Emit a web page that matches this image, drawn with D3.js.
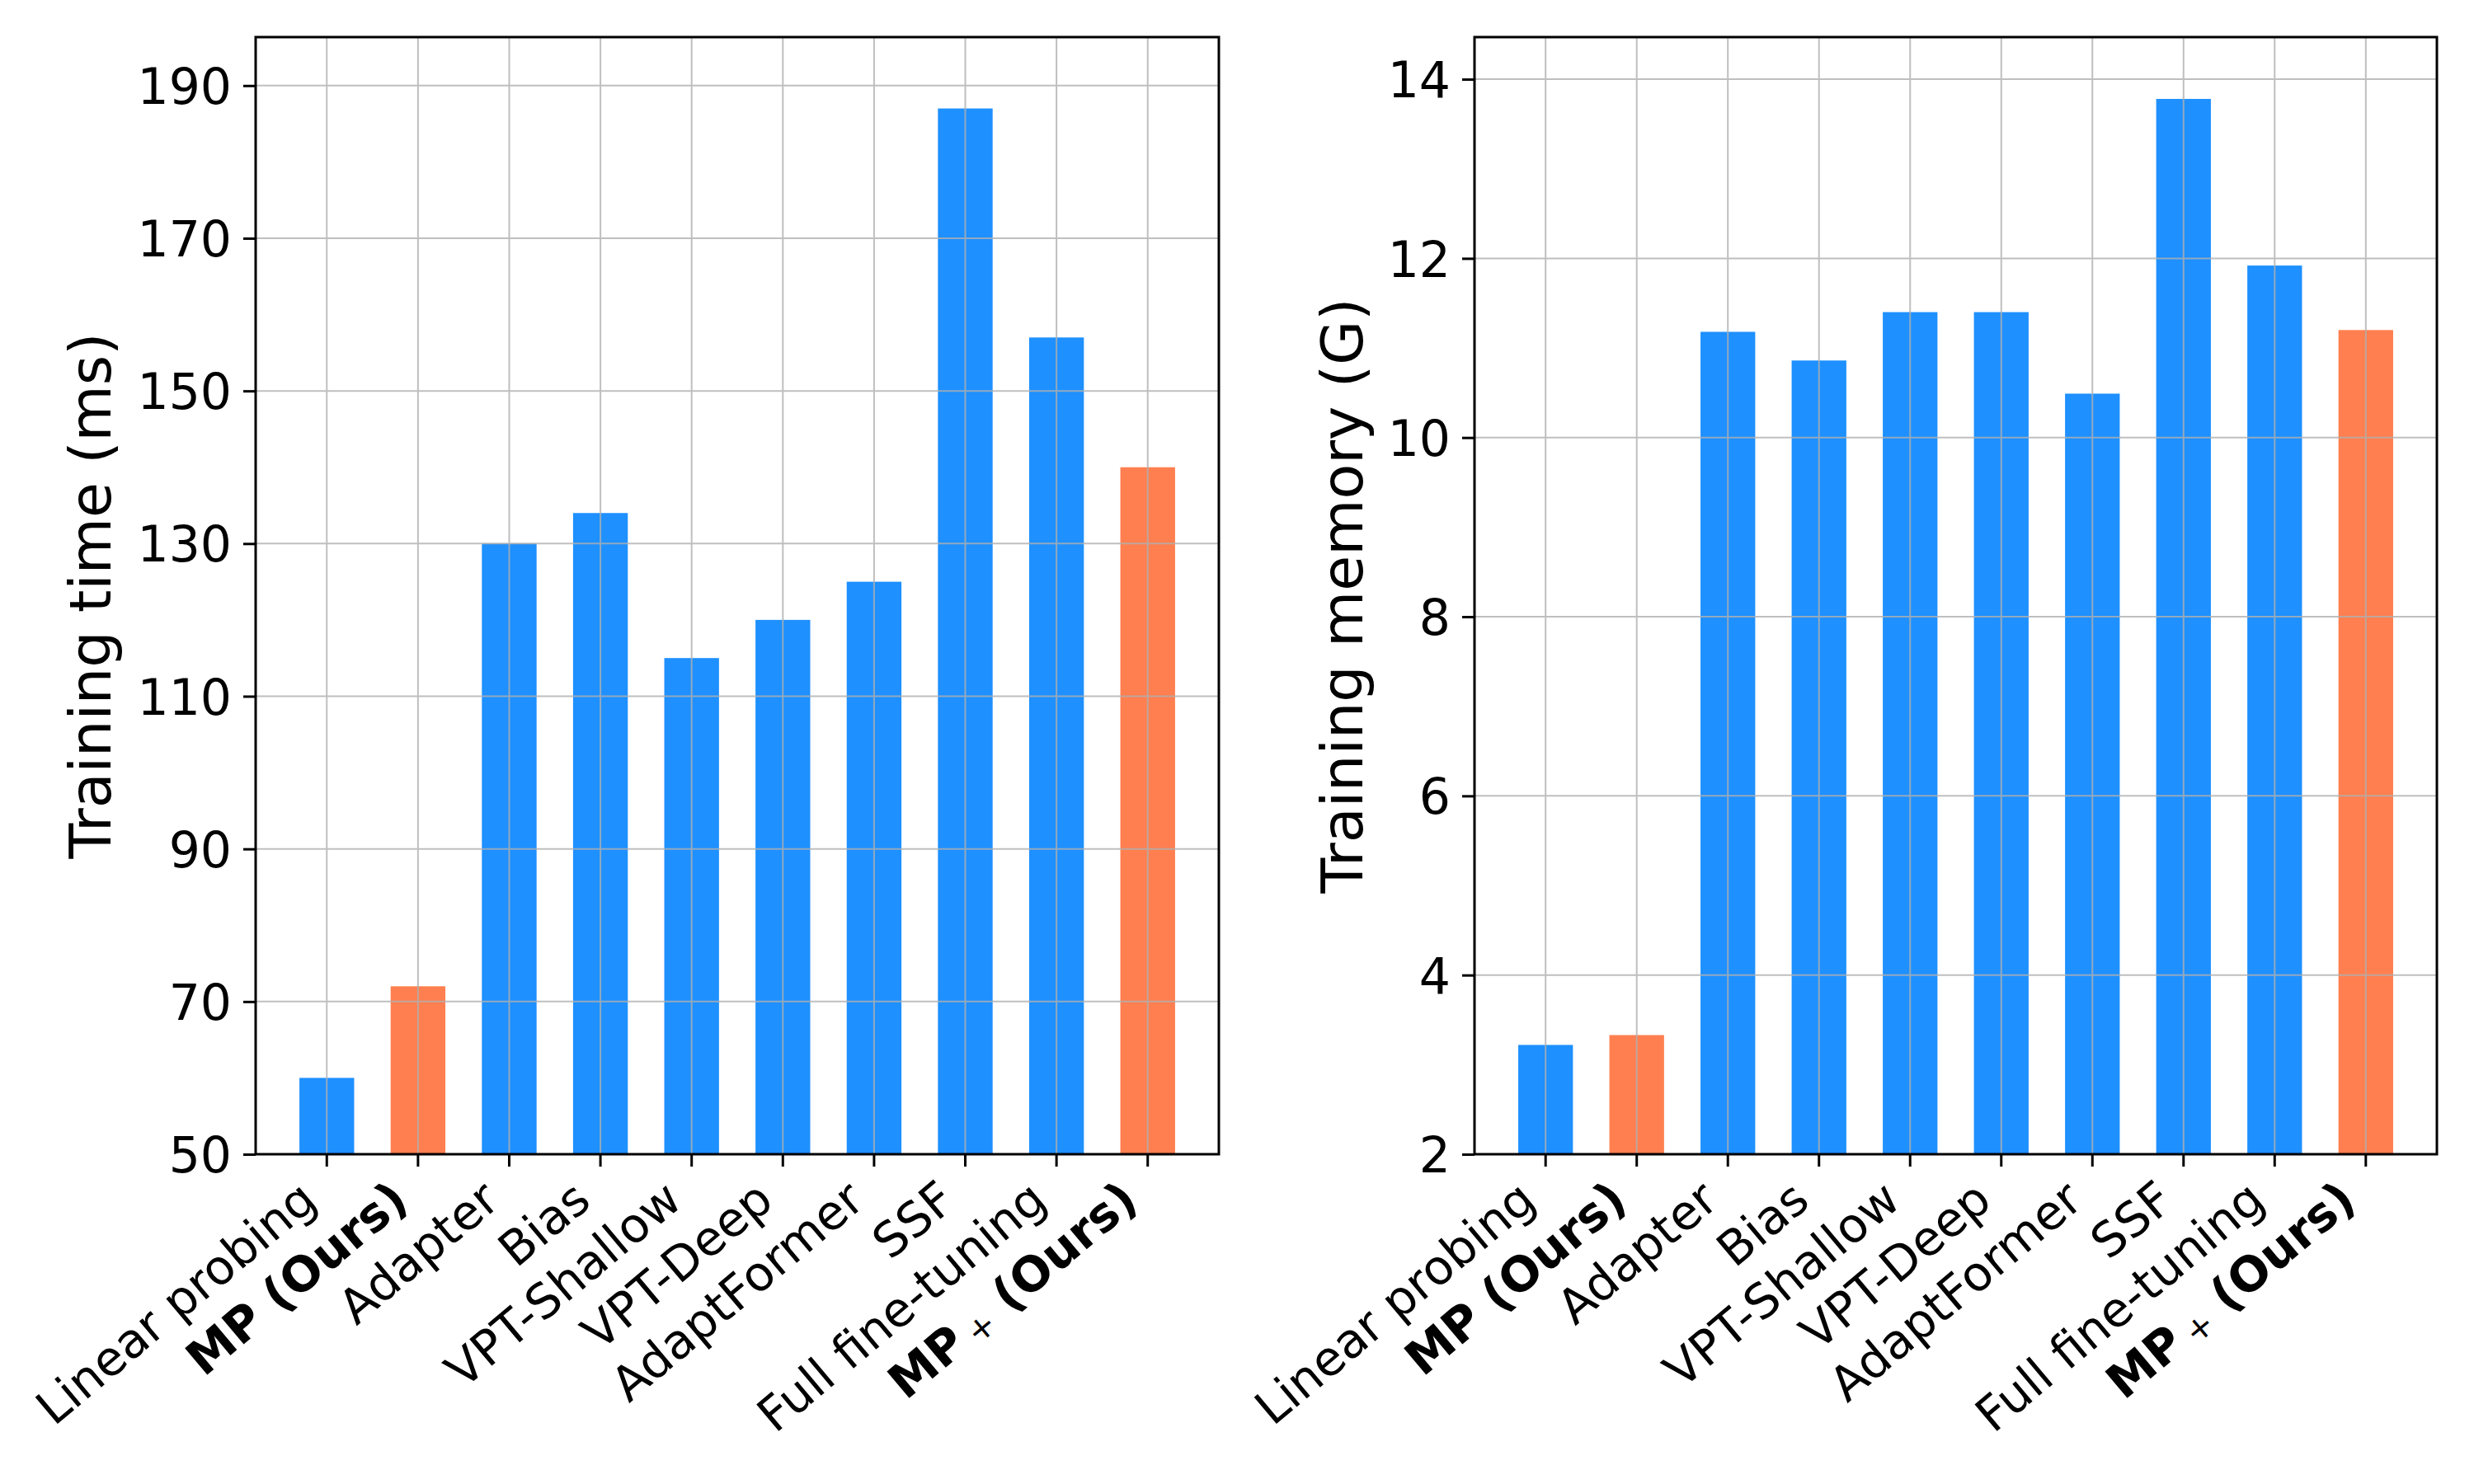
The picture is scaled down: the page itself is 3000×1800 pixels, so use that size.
<!DOCTYPE html>
<html>
<head>
<meta charset="utf-8">
<script src="https://cdn.jsdelivr.net/npm/d3@7"></script>
<style>
  body { margin: 0; background: #fff; }
  svg { display: block; font-family: "DejaVu Sans", sans-serif; }
</style>
</head>
<body>
<svg id="chart"></svg>
<script>
// data
var methods = ["Linear probing", "MP (Ours)", "Adapter", "Bias", "VPT-Shallow",
               "VPT-Deep", "AdaptFormer", "SSF", "Full fine-tuning", "MP+ (Ours)"];
var trainTime = [60, 72, 130, 134, 115, 120, 125, 187, 157, 140];
var trainMemory = [3.22, 3.33, 11.18, 10.86, 11.40, 11.40, 10.49, 13.78, 11.92, 11.20];
var timeTicks = [50, 70, 90, 110, 130, 150, 170, 190];
var memoryTicks = [2, 4, 6, 8, 10, 12, 14];
var timeRange = [50, 196.35];
var memoryRange = [2, 14.47];

var width = 3000, height = 1800;
var svg = d3.select("#chart").attr("width", width).attr("height", height);

var plotTop = 45, plotBottom = 1400;
var blue = "#1e90ff", coral = "#ff7f50";
var tickFont = 60, xLabelFont = 58, labelFont = 70;
var rot = 40; // x label rotation, degrees

var panels = [
  { x0: 310, x1: 1478, values: trainTime, domain: timeRange, ticks: timeTicks,
    title: "Training time (ms)", titleX: 134 },
  { x0: 1788, x1: 2955, values: trainMemory, domain: memoryRange, ticks: memoryTicks,
    title: "Training memory (G)", titleX: 1652 }
];

panels.forEach(function (p) {
  var g = svg.append("g");

  var x = d3.scaleBand().domain(methods).range([p.x0, p.x1])
      .paddingInner(0.4).paddingOuter(0.48);
  var y = d3.scaleLinear().domain(p.domain).range([plotBottom, plotTop]);

  // bars
  g.selectAll("rect.bar").data(p.values).enter().append("rect")
      .attr("class", "bar")
      .attr("x", function (d, i) { return x(methods[i]); })
      .attr("width", x.bandwidth())
      .attr("y", function (d) { return y(d); })
      .attr("height", function (d) { return y(p.domain[0]) - y(d); })
      .attr("fill", function (d, i) { return methods[i].indexOf("(Ours)") >= 0 ? coral : blue; });

  // grid on top of the bars, like matplotlib
  var grid = g.append("g").attr("stroke", "#b0b0b0").attr("stroke-width", 2).attr("opacity", 0.8);
  p.ticks.forEach(function (t) {
    grid.append("line").attr("x1", p.x0).attr("x2", p.x1).attr("y1", y(t)).attr("y2", y(t));
  });
  methods.forEach(function (m) {
    var cx = x(m) + x.bandwidth() / 2;
    grid.append("line").attr("x1", cx).attr("x2", cx).attr("y1", plotTop).attr("y2", plotBottom);
  });

  // y axis
  var yAxis = d3.axisLeft(y).tickValues(p.ticks).tickSize(15).tickPadding(14)
      .tickFormat(d3.format("d"));
  var ya = g.append("g").attr("transform", "translate(" + p.x0 + ",0)").call(yAxis);
  ya.select(".domain").remove();
  ya.selectAll("line").attr("stroke", "#000").attr("stroke-width", 3);
  ya.selectAll("text").attr("font-size", tickFont).attr("fill", "#000")
      .attr("font-family", "DejaVu Sans").attr("dy", "0.36em");

  // x axis ticks
  var xAxis = d3.axisBottom(x).tickSize(15).tickFormat("");
  var xa = g.append("g").attr("transform", "translate(0," + plotBottom + ")").call(xAxis);
  xa.select(".domain").remove();
  xa.selectAll("line").attr("stroke", "#000").attr("stroke-width", 3);

  // rotated x labels: top-right corner of the rotated box sits under the tick
  var c = Math.cos(rot * Math.PI / 180), s = Math.sin(rot * Math.PI / 180);
  var asc = 0.76 * xLabelFont, desc = 0.24 * xLabelFont, yTop = plotBottom + 15 + 12;
  methods.forEach(function (m) {
    var cx = x(m) + x.bandwidth() / 2;
    var ax = cx - s * desc, ay = yTop + c * asc;
    var t = g.append("text")
        .attr("transform", "translate(" + ax + "," + ay + ") rotate(" + (-rot) + ")")
        .attr("text-anchor", "end")
        .attr("font-size", xLabelFont)
        .attr("fill", "#000");
    if (m.indexOf("(Ours)") < 0) {
      t.text(m);
    } else if (m.indexOf("MP+") === 0) {
      t.attr("font-weight", "bold");
      t.append("tspan").text("MP");
      t.append("tspan").attr("font-size", xLabelFont * 0.7).attr("font-weight", "normal")
          .attr("dx", 10).attr("dy", 0.08 * xLabelFont).text("+");
      t.append("tspan").attr("dy", -0.08 * xLabelFont).text(" (Ours)");
    } else {
      t.attr("font-weight", "bold").text(m);
    }
  });

  // frame
  g.append("rect").attr("x", p.x0).attr("y", plotTop)
      .attr("width", p.x1 - p.x0).attr("height", plotBottom - plotTop)
      .attr("fill", "none").attr("stroke", "#000").attr("stroke-width", 3);

  // y label
  g.append("text")
      .attr("transform", "translate(" + p.titleX + "," + (plotTop + plotBottom) / 2 + ") rotate(-90)")
      .attr("text-anchor", "middle")
      .attr("font-size", labelFont)
      .attr("fill", "#000")
      .text(p.title);
});
</script>
</body>
</html>
